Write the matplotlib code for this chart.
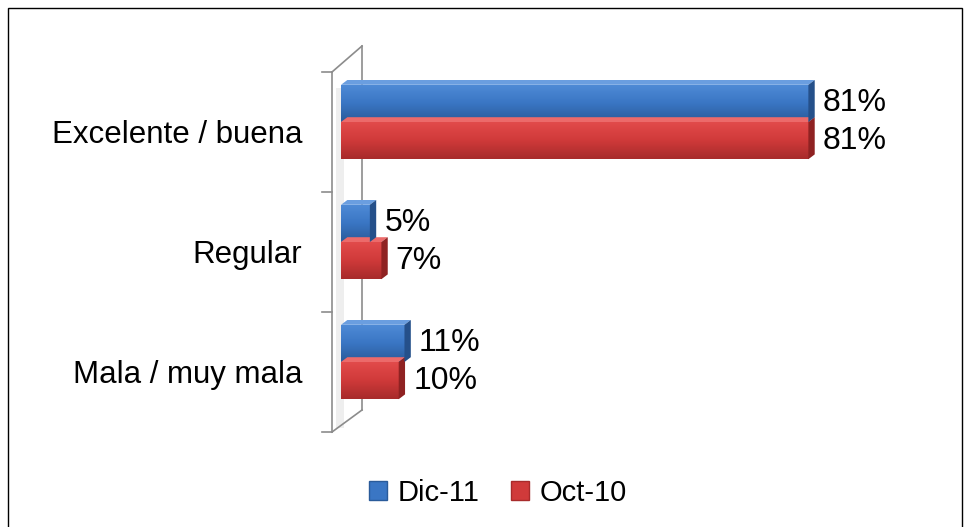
import matplotlib
matplotlib.use("Agg")
import numpy as np
import matplotlib.pyplot as plt
from matplotlib.patches import Polygon, Patch, Rectangle
from matplotlib.lines import Line2D
from matplotlib.colors import LinearSegmentedColormap

# data
categories = ["Excelente / buena", "Regular", "Mala / muy mala"]
dic11 = [81, 5, 11]
oct10 = [81, 7, 10]
series_names = ["Dic-11", "Oct-10"]

plt.rcParams['font.family'] = ['Liberation Sans', 'DejaVu Sans']

fig = plt.figure(figsize=(9.67, 5.27), dpi=100)
W, H = 967, 527

# axes placed in pixel terms: x=0 at 341px, x=100 at 918px
ax = fig.add_axes([341 / W, (H - 422) / H, 577 / W, 360 / H])
ax.patch.set_visible(False)
for s in ax.spines.values():
    s.set_visible(False)
ax.set_xticks([])

# (light, mid, dark, top face, side face)
blue = ("#4f8bd6", "#3a76c4", "#2a5b9a", "#6a9ee0", "#25508a")
red = ("#e24b4b", "#d03a3a", "#a82b2b", "#ec6a6a", "#8f2222")

bh = 0.31
dx, dy = 1.1, 0.04   # fake 3D depth


def bar3d(y, v, cols):
    light, mid, dark, top, side = cols
    cmap = LinearSegmentedColormap.from_list("g", [light, mid, dark])
    bars = ax.barh(y, v, height=bh, color=mid, zorder=3)
    y0, y1 = y - bh / 2, y + bh / 2
    grad = np.linspace(0, 1, 50).reshape(-1, 1)
    im = ax.imshow(grad, cmap=cmap, aspect="auto", extent=(0, v, y1, y0),
                   zorder=3.1, interpolation="bilinear")
    im.set_clip_path(bars[0])
    ax.add_patch(Polygon([(0, y0), (v, y0), (v + dx, y0 - dy), (dx, y0 - dy)],
                         closed=True, color=top, lw=0, zorder=3.2))
    ax.add_patch(Polygon([(v, y0), (v + dx, y0 - dy), (v + dx, y1 - dy), (v, y1)],
                         closed=True, color=side, lw=0, zorder=3.2))
    ax.text(v + dx + 1.4, y, f"{v}%", va="center", ha="left", fontsize=23,
            color="black", zorder=4)


# draw lower series first so upper bar top faces overlap correctly
for i in range(len(categories)):
    bar3d(i + 0.155, oct10[i], red)
    bar3d(i - 0.155, dic11[i], blue)

ax.set_xlim(0, 100)
ax.set_ylim(2.5, -0.5)
ax.set_yticks([i + 0.08 for i in range(len(categories))])
ax.set_yticklabels(categories, fontsize=22.5)
ax.tick_params(axis="y", length=0, pad=28)

# wall (decoration, figure pixel coords)
gray = "#8c8c8c"


def fl(xs, ys, **kw):
    fig.add_artist(Line2D([x / W for x in xs], [1 - y / H for y in ys],
                          color=gray, lw=1.2, zorder=-1, **kw))


fl([332, 332], [72, 432])
fl([362, 362], [46, 410])
fl([332, 362], [72, 46])
fl([332, 362], [432, 410])
for ty in [72, 192, 312, 432]:
    fl([322, 332], [ty, ty])
fig.add_artist(Rectangle((336 / W, 1 - 428 / H), 8 / W, 340 / H,
                         facecolor="#eeeeee", edgecolor="none", zorder=-2))

# legend
handles = [Patch(facecolor=blue[1], edgecolor=blue[2]),
           Patch(facecolor=red[1], edgecolor=red[2])]
fig.legend(handles, series_names, loc="center", bbox_to_anchor=(0.515, 1 - 493 / H),
           ncol=2, frameon=False, fontsize=21, handlelength=0.62, handleheight=0.62,
           handletextpad=0.35, columnspacing=1.1)

# outer border
fig.add_artist(Rectangle((8 / W, -0.01), 954 / W, 1 - 8 / H + 0.01, fill=False,
                         edgecolor="black", lw=1, zorder=5))

fig.savefig("out.png", dpi=100)
